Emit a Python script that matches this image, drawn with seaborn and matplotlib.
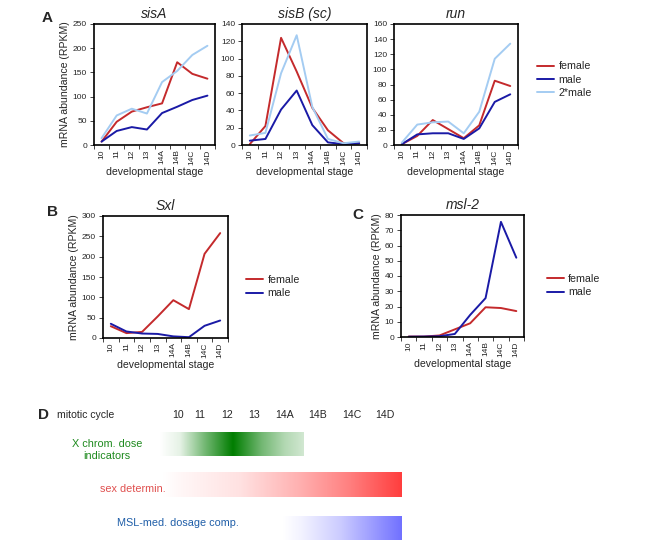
import numpy as np
import pandas as pd
import matplotlib
matplotlib.use("Agg")
import matplotlib.pyplot as plt
import seaborn as sns
from matplotlib.lines import Line2D
from matplotlib.colors import to_rgb

sns.set_style("white")
plt.rcParams["font.family"] = ["Liberation Sans", "DejaVu Sans"]

stages = ["10", "11", "12", "13", "14A", "14B", "14C", "14D"]

# RPKM values
sisA_female = [7, 48, 69, 78, 86, 171, 147, 137]
sisA_male = [7, 29, 37, 32, 66, 79, 93, 102]
sisA_2male = [14, 61, 75, 65, 130, 153, 186, 205]

sisB_female = [1, 22, 124, 85, 43, 17, 2, 2]
sisB_male = [5, 7, 41, 63, 23, 3, 1, 2]
sisB_2male = [11, 14, 83, 127, 44, 7, 2, 4]

run_female = [1, 12, 33, 21, 9, 26, 85, 78]
run_male = [1, 14, 15.5, 15.5, 8, 22, 57, 67]
run_2male = [3, 27, 30, 31, 15.5, 44, 114, 134]

sxl_female = [29, 12, 15, 53, 93, 71, 207, 258]
sxl_male = [35, 16, 11, 10, 4, 2, 30, 43]

msl2_female = [0.3, 0.3, 1, 5, 9, 19.5, 19, 17]
msl2_male = [0.2, 0.3, 0.5, 2, 14.5, 25.5, 75.5, 52]

cycle_labels = ["10", "11", "12", "13", "14A", "14B", "14C", "14D"]

RED = "#c42a2c"
BLUE = "#1a1aa6"
LIGHT = "#a4ccf2"
colors = {"female": RED, "male": BLUE, "2*male": LIGHT}


def long_df(**series):
    frames = []
    for name, vals in series.items():
        frames.append(pd.DataFrame({"stage": stages, "rpkm": vals, "sex": name.replace("two", "2*")}))
    return pd.concat(frames, ignore_index=True)


fig = plt.figure(figsize=(6.56, 5.6), dpi=100)
W, H = 656, 560


def px_rect(x0, x1, y0, y1):
    return [x0 / W, 1 - y1 / H, (x1 - x0) / W, (y1 - y0) / H]


def panel(rect, df, title, ymax, ystep, ylabel=True):
    ax = fig.add_axes(rect)
    sns.lineplot(data=df, x="stage", y="rpkm", hue="sex", palette=colors,
                 sort=False, lw=1.4, legend=False, ax=ax)
    ax.set_xlim(-0.5, 7.5)
    ax.set_ylim(0, ymax)
    ax.set_yticks(np.arange(0, ymax + 1, ystep))
    ax.set_xticks(range(len(stages)))
    ax.set_xticklabels(stages, rotation=90)
    ax.set_xticks(np.arange(-0.5, len(stages), 1), minor=True)
    ax.tick_params(axis="x", which="major", length=0, labelsize=6, pad=3)
    ax.tick_params(axis="x", which="minor", length=3, width=0.6, bottom=True, direction="out")
    ax.tick_params(axis="y", length=3, width=0.6, left=True, direction="out", labelsize=6, pad=2)
    for s in ax.spines.values():
        s.set_color("black")
        s.set_linewidth(1.2)
    ax.set_title(title, style="italic", fontsize=10, pad=4)
    ax.set_xlabel("developmental stage", fontsize=7.6, labelpad=2)
    ax.set_ylabel("mRNA abundance (RPKM)" if ylabel else "", fontsize=7.6, labelpad=2)
    return ax


def add_legend(ax, names, x, y):
    handles = [Line2D([], [], color=colors[n], lw=1.4) for n in names]
    ax.legend(handles, names, loc="center left", bbox_to_anchor=(x, y), frameon=False,
              fontsize=7.7, handlelength=1.6, handletextpad=0.4, labelspacing=0.3,
              borderaxespad=0)


# Panel A
axA1 = panel(px_rect(94, 215, 24, 145), long_df(female=sisA_female, male=sisA_male, twomale=sisA_2male),
             "sisA", 250, 50)
axA2 = panel(px_rect(242, 367, 24, 145), long_df(female=sisB_female, male=sisB_male, twomale=sisB_2male),
             "sisB (sc)", 140, 20, ylabel=False)
axA3 = panel(px_rect(394, 518, 24, 145), long_df(female=run_female, male=run_male, twomale=run_2male),
             "run", 160, 20, ylabel=False)
add_legend(axA3, ["female", "male", "2*male"], 1.12, 0.54)

# Panel B
axB = panel(px_rect(103, 228, 216, 338), long_df(female=sxl_female, male=sxl_male), "Sxl", 300, 50)
add_legend(axB, ["female", "male"], 1.11, 0.42)

# Panel C
axC = panel(px_rect(401, 524, 215, 337), long_df(female=msl2_female, male=msl2_male), "msl-2", 80, 10)
add_legend(axC, ["female", "male"], 1.15, 0.42)

# Panel D: schematic on a pixel-coordinate overlay
axD = fig.add_axes([0, 0, 1, 1])
axD.set_zorder(-1)


def gradient_bar(ax, x0, x1, y0, y1, color, anchors, alphas):
    xs = np.linspace(x0, x1, 300)
    a = np.interp(xs, anchors, alphas)
    rgb = np.array(to_rgb(color))
    img = np.ones((1, len(xs), 4))
    img[0, :, :3] = 1 - a[:, None] * (1 - rgb)
    img[0, :, 3] = 1
    ax.imshow(img, extent=(x0, x1, y1, y0), aspect="auto", interpolation="bilinear")


gradient_bar(axD, 160, 304, 432, 456, "#007d00",
             [160, 180, 205, 233, 262, 285, 304], [0.0, 0.1, 0.55, 1.0, 0.55, 0.3, 0.18])
gradient_bar(axD, 163, 402, 472, 497, "#ff3a3a",
             [163, 180, 240, 300, 350, 402], [0.0, 0.04, 0.15, 0.4, 0.65, 0.98])
gradient_bar(axD, 283, 402, 516, 540, "#6e6eff",
             [283, 300, 340, 402], [0.0, 0.08, 0.35, 0.98])

axD.set_xlim(0, W)
axD.set_ylim(H, 0)
axD.axis("off")

axD.text(57, 415, "mitotic cycle", fontsize=7.6, va="center", ha="left")
cycle_x = [178, 200, 227, 254, 285, 318, 352, 385]
for lab, x in zip(cycle_labels, cycle_x):
    axD.text(x, 415, lab, fontsize=7.6, va="center", ha="center")
axD.text(107, 450, "X chrom. dose\nindicators", fontsize=7.8, va="center", ha="center",
         color="#1e8a1e", linespacing=1.25)
axD.text(166, 489, "sex determin.", fontsize=7.8, va="center", ha="right", color="#e0504f")
axD.text(117, 523, "MSL-med. dosage comp.", fontsize=7.8, va="center", ha="left", color="#1f5ea8")

# panel letters
for lab, x, y in [("A", 42, 18), ("B", 47, 212), ("C", 352, 215), ("D", 38, 415)]:
    axD.text(x, y, lab, fontsize=11, fontweight="bold", va="center", ha="left")

fig.savefig("out.png", dpi=100)
